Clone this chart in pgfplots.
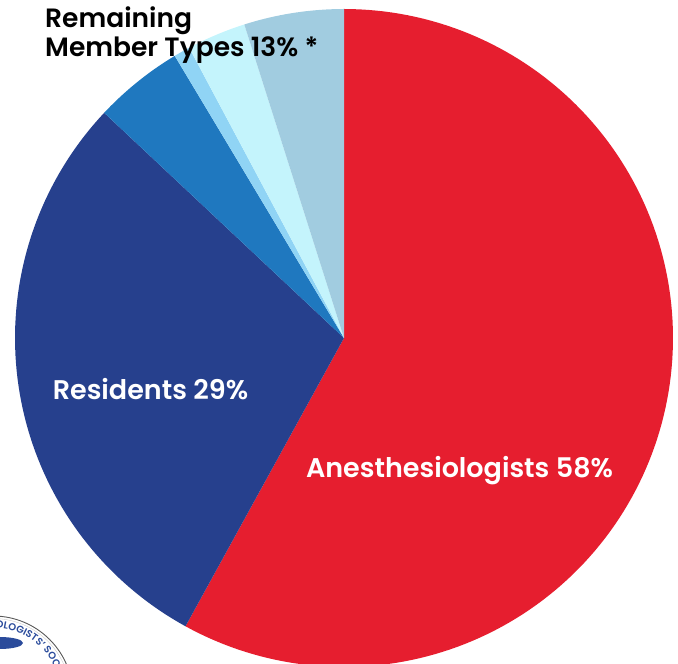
\documentclass[border=0pt]{standalone}
\usepackage{fontspec}
\setmainfont{Poppins}[BoldFont={* SemiBold}]
\usepackage{pgfplots}
\pgfplotsset{compat=1.18}
\usetikzlibrary{decorations.text}
\definecolor{cA}{HTML}{E61E2F}
\definecolor{cR}{HTML}{26408D}
\definecolor{c1}{HTML}{1F78BF}
\definecolor{c2}{HTML}{90D4F5}
\definecolor{c3}{HTML}{C4F4FC}
\definecolor{c4}{HTML}{A1CCE0}
\definecolor{logo}{HTML}{2A4B9B}
\begin{document}
\begin{tikzpicture}[x=1pt,y=1pt]
\clip (0,0) rectangle (678,664);
\begin{axis}[at={(344pt,326pt)}, anchor=center, scale only axis,
  width=658pt, height=658pt, xmin=-1, xmax=1, ymin=-1, ymax=1,
  hide axis, clip=false]
% slices given as cumulative percentages (start:end)
\addplot[fill=cA, draw=none, domain=0:58, samples=150, variable=\t] ({cos(90-3.6*\t)},{sin(90-3.6*\t)}) -- (axis cs:0,0) -- cycle;
\addplot[fill=cR, draw=none, domain=58:87, samples=80, variable=\t] ({cos(90-3.6*\t)},{sin(90-3.6*\t)}) -- (axis cs:0,0) -- cycle;
\addplot[fill=c1, draw=none, domain=87:91.4, samples=20, variable=\t] ({cos(90-3.6*\t)},{sin(90-3.6*\t)}) -- (axis cs:0,0) -- cycle;
\addplot[fill=c2, draw=none, domain=91.4:92.2, samples=5, variable=\t] ({cos(90-3.6*\t)},{sin(90-3.6*\t)}) -- (axis cs:0,0) -- cycle;
\addplot[fill=c3, draw=none, domain=92.2:95.1, samples=15, variable=\t] ({cos(90-3.6*\t)},{sin(90-3.6*\t)}) -- (axis cs:0,0) -- cycle;
\addplot[fill=c4, draw=none, domain=95.1:100, samples=20, variable=\t] ({cos(90-3.6*\t)},{sin(90-3.6*\t)}) -- (axis cs:0,0) -- cycle;
\end{axis}
\node[anchor=base, text=white, font=\bfseries\fontsize{27}{31}\selectfont] at (459.5,186.3) {Anesthesiologists 58\%};
\node[anchor=base, text=white, font=\bfseries\fontsize{27}{31}\selectfont] at (150.5,264) {Residents 29\%};
\node[anchor=base west, inner sep=0pt, text=black, font=\bfseries\fontsize{26.5}{30}\selectfont] at (45,636.7) {Remaining};
\node[anchor=base west, inner sep=0pt, text=black, font=\bfseries\fontsize{26.5}{30}\selectfont] at (45,607.3) {Member Types 13\% *};
% partial logo seal at bottom left
\draw[gray!70!black, line width=0.9pt] (-7,-32) circle (80);
\draw[gray!40, line width=0.4pt] (-7,-32) circle (77.5);
\fill[logo] (0,21) ellipse (23 and 6);
\path[decorate, decoration={text along path, text color=logo, text={|\bfseries\fontsize{10}{11}\selectfont|OLOGISTS' SOCIETY}}] (-7,-32) ++(88:68) arc[start angle=88, end angle=-10, radius=68];
\end{tikzpicture}
\end{document}
